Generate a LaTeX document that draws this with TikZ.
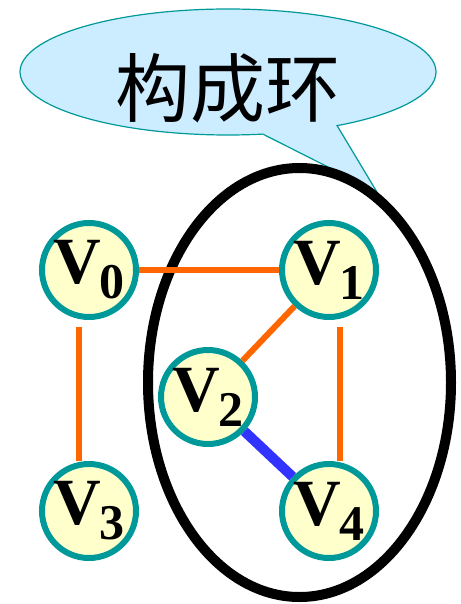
\documentclass[tikz,border=0pt]{standalone}
\usepackage{fontspec}
\setmainfont{Liberation Serif}
\newfontfamily\cjk{Noto Sans CJK SC}
\definecolor{tealline}{RGB}{0,153,153}
\definecolor{paleyellow}{RGB}{255,255,204}
\definecolor{paleblue}{RGB}{204,236,255}
\definecolor{edgeorange}{RGB}{255,102,0}
\definecolor{edgeblue}{RGB}{51,51,255}
\usetikzlibrary{calc, positioning, shapes.geometric, shapes.callouts, backgrounds}
\newcommand{\vname}[1]{V\kern-1pt\raisebox{-15pt}{\fontsize{50}{50}\selectfont #1}}

\begin{document}
\begin{tikzpicture}[x=1pt, y=-1pt,
    vertex/.style={circle, minimum size=94pt, inner sep=0pt, line width=6pt,
      draw=tealline, fill=paleyellow, font=\fontsize{66}{66}\selectfont\bfseries},
    edge/.style={edgeorange, line width=6pt},
    cut/.style={edgeblue, line width=10pt},
    bubble/.style={ellipse callout, draw=tealline, fill=paleblue, line width=1.2pt,
      minimum width=416pt, minimum height=126pt, callout pointer arc=22},
  ]
    \useasboundingbox (0,0) rectangle (460,604);

    % the ring V1 - V2 - V4
    \node[ellipse, draw, line width=10pt, minimum width=303pt, minimum height=429pt] (cycle) at (299.5,382.5) {};

    \node[vertex] (v0) at (89,270) {\vname{0}};
    \node[vertex] (v1) at (329,270) {\vname{1}};
    \node[vertex] (v2) at (208,397) {\vname{2}};
    \node[vertex] (v3) at (89,511) {\vname{3}};
    \node[vertex] (v4) at (329,511) {\vname{4}};

    \draw[edge] (v0) -- (v1);
    \draw[edge] (v1) -- (v2);
    \draw[edge] ($(v0.south)+(-10,7)$) -- ([xshift=-10pt]v3.north);
    \draw[edge] ($(v1.south)+(11,7)$) -- ([xshift=11pt]v4.north);
    \draw[cut] (v2) -- (v4);

    \begin{pgfonlayer}{background}
      \node[bubble, callout absolute pointer={(cycle.68)}] (bubble) at (228,72) {};
    \end{pgfonlayer}
    \node[font=\cjk\fontsize{75}{75}\selectfont] (ring) at (228,88) {构成环};
  \end{tikzpicture}
\end{document}
